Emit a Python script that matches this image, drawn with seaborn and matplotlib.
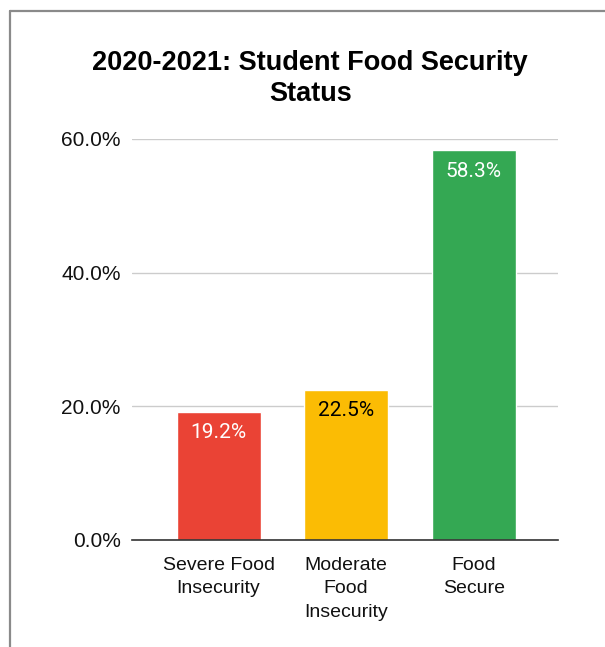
#!/usr/bin/env python3

import pandas as pd
import matplotlib.pyplot as plt
import seaborn as sns
from matplotlib.lines import Line2D

# Chart data
categories = ['Severe Food\nInsecurity', 'Moderate\nFood\nInsecurity', 'Food\nSecure']
percentages = [19.2, 22.5, 58.3]
bar_colors = ['#EA4335', '#FBBC04', '#34A853']
label_colors = ['white', 'black', 'white']
y_ticks = [0, 20, 40, 60]

sns.set_theme(style='white')
plt.rcParams['font.family'] = ['Liberation Sans', 'DejaVu Sans']

df = pd.DataFrame({'category': categories, 'pct': percentages})

fig = plt.figure(figsize=(6.05, 6.47), dpi=100)
ax = fig.add_axes([0.218, 0.1654, 0.704, 0.6198])

sns.barplot(data=df, x='category', y='pct', hue='category',
            palette=bar_colors, width=0.66, legend=False, ax=ax, saturation=1)

# Value labels inside the bar tops
for patch, val, col in zip(ax.patches, percentages, label_colors):
    ax.annotate(f'{val:.1f}%',
                (patch.get_x() + patch.get_width() / 2, val),
                xytext=(0, -15), textcoords='offset points',
                ha='center', va='center', fontsize=15, color=col,
                family='Roboto')

ax.set_ylim(0, 60)
ax.set_xlim(-0.68, 2.66)
ax.set_yticks(y_ticks)
ax.set_yticklabels([f'{t:.1f}%' for t in y_ticks], fontsize=15, color='#111111')
ax.tick_params(axis='y', length=0, pad=8)
ax.tick_params(axis='x', length=0, pad=12, labelsize=14, labelcolor='#111111')
for lbl in ax.get_xticklabels():
    lbl.set_linespacing(1.5)
    lbl.set_va('top')
ax.set_xlabel('')
ax.set_ylabel('')

ax.yaxis.grid(True, color='#cccccc', linewidth=1)
ax.set_axisbelow(True)
for side in ['top', 'right', 'left']:
    ax.spines[side].set_visible(False)
ax.spines['bottom'].set_color('#333333')
ax.spines['bottom'].set_linewidth(1.2)

fig.suptitle('2020-2021: Student Food Security\nStatus', x=0.513, y=0.923,
             fontsize=19.5, fontweight='bold', color='black',
             linespacing=1.28)

# Gray frame on left and top edges
fig.add_artist(Line2D([0.016, 0.016], [0, 0.983], transform=fig.transFigure,
                      color='#8a8a8a', linewidth=1.6))
fig.add_artist(Line2D([0.016, 1.0], [0.983, 0.983], transform=fig.transFigure,
                      color='#8a8a8a', linewidth=1.6))

fig.savefig('out.png', dpi=100)
